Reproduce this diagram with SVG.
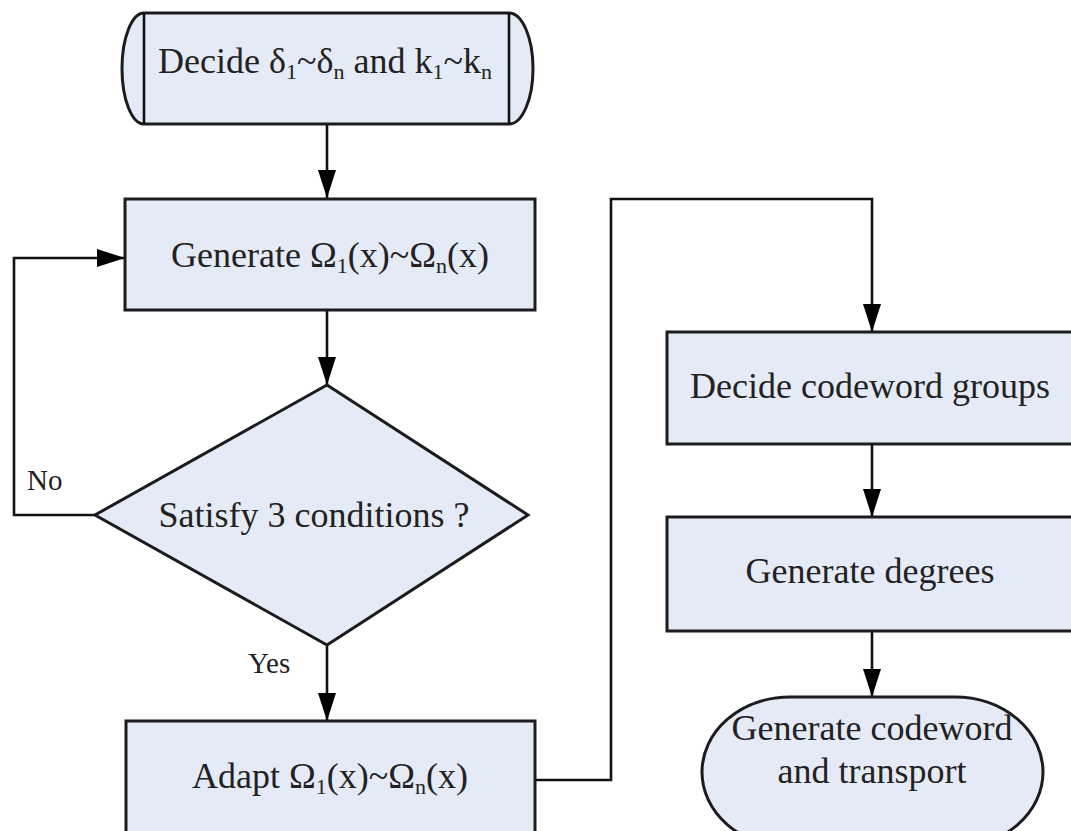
<svg xmlns="http://www.w3.org/2000/svg" width="1071" height="831" viewBox="0 0 1071 831">
<defs>
<style>
.node{fill:#e5ebf6;stroke:#1c1c1c;stroke-width:3}
.edge{fill:none;stroke:#111;stroke-width:2.6}
.t{font-family:"Liberation Serif","Times New Roman",serif;font-size:36px;fill:#222;text-anchor:middle}
.lbl{font-family:"Liberation Serif","Times New Roman",serif;font-size:29px;fill:#222}
.sub{font-size:22px}
</style>
<marker id="arr" markerUnits="userSpaceOnUse" markerWidth="30" markerHeight="20" refX="28" refY="9" orient="auto">
<path d="M0,0 L28,9 L0,18 Z" fill="#000"/>
</marker>
</defs>
<rect width="1071" height="831" fill="#fff"/>

<g id="connectors">
<line class="edge" x1="327" y1="124" x2="327" y2="198" marker-end="url(#arr)"/>
<line class="edge" x1="327" y1="310" x2="327" y2="385" marker-end="url(#arr)"/>
<polyline class="edge" points="95,515 14,515 14,258 125,258" marker-end="url(#arr)"/>
<line class="edge" x1="327" y1="645" x2="327" y2="721" marker-end="url(#arr)"/>
<polyline class="edge" points="535,780 611,780 611,199 872,199 872,332" marker-end="url(#arr)"/>
<line class="edge" x1="872" y1="444" x2="872" y2="517" marker-end="url(#arr)"/>
<line class="edge" x1="872" y1="631" x2="872" y2="697" marker-end="url(#arr)"/>
<text class="lbl" x="27" y="490">No</text>
<text class="lbl" x="248" y="673">Yes</text>
</g>

<g id="start">
<path class="node" d="M144,13 L509,13 A24,55.5 0 0 1 509,124 L144,124 A22,55.5 0 0 1 144,13 Z"/>
<line class="edge" x1="144" y1="13" x2="144" y2="124" stroke-width="3"/>
<line class="edge" x1="509" y1="13" x2="509" y2="124" stroke-width="3"/>
<text class="t" x="325" y="73">Decide δ<tspan class="sub" dy="6">1</tspan><tspan dy="-6">~δ</tspan><tspan class="sub" dy="6">n</tspan><tspan dy="-6"> and k</tspan><tspan class="sub" dy="6">1</tspan><tspan dy="-6">~k</tspan><tspan class="sub" dy="6">n</tspan></text>
</g>

<g id="generate">
<rect class="node" x="125" y="199" width="410" height="111"/>
<text class="t" x="330" y="267">Generate Ω<tspan class="sub" dy="6">1</tspan><tspan dy="-6">(x)~Ω</tspan><tspan class="sub" dy="6">n</tspan><tspan dy="-6">(x)</tspan></text>
</g>

<g id="decision">
<polygon class="node" points="327,385 528,515 327,645 95,515"/>
<text class="t" x="314" y="527">Satisfy 3 conditions ?</text>
</g>

<g id="adapt">
<rect class="node" x="126" y="721" width="409" height="130"/>
<text class="t" x="330" y="788">Adapt Ω<tspan class="sub" dy="6">1</tspan><tspan dy="-6">(x)~Ω</tspan><tspan class="sub" dy="6">n</tspan><tspan dy="-6">(x)</tspan></text>
</g>

<g id="groups">
<rect class="node" x="667" y="332" width="420" height="112"/>
<text class="t" x="870" y="398">Decide codeword groups</text>
</g>

<g id="degrees">
<rect class="node" x="667" y="517" width="420" height="114"/>
<text class="t" x="870" y="583">Generate degrees</text>
</g>

<g id="terminal">
<path class="node" d="M790,697 L955,697 A88,75 0 0 1 955,847 L790,847 A88,75 0 0 1 790,697 Z"/>
<text class="t" x="872" y="740">Generate codeword</text>
<text class="t" x="872" y="783">and transport</text>
</g>
</svg>
